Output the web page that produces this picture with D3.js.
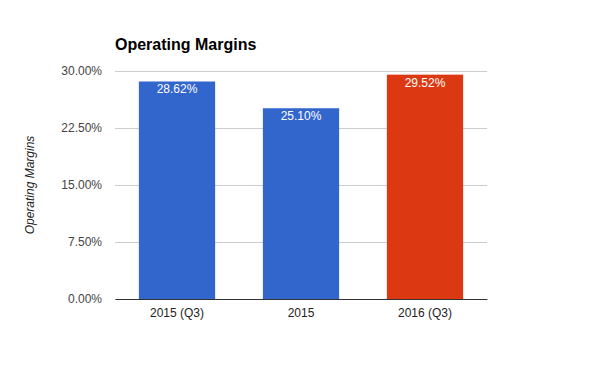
<!DOCTYPE html>
<html>
<head>
<meta charset="utf-8">
<script src="https://cdn.jsdelivr.net/npm/d3@7"></script>
<style>
  body { margin: 0; background: #fff; }
  svg { font-family: "Liberation Sans", Arial, sans-serif; }
</style>
</head>
<body>
<svg width="600" height="371"></svg>
<script>
var categories = ["2015 (Q3)", "2015", "2016 (Q3)"];
var margins = [28.62, 25.10, 29.52];
var barColors = ["#3366cc", "#3366cc", "#dc3912"];
var yTicks = [0, 7.5, 15, 22.5, 30];

var margin = {top: 71, right: 113, bottom: 72, left: 115},
    width = 600 - margin.left - margin.right,
    height = 371 - margin.top - margin.bottom;

var svg = d3.select("svg")
  .append("g")
    .attr("transform", "translate(" + margin.left + "," + margin.top + ")");

var x = d3.scaleBand()
  .domain(categories)
  .range([0, width])
  .paddingInner(0.385)
  .paddingOuter(0.1925);

var y = d3.scaleLinear()
  .domain([0, 30])
  .range([height, 0]);

// gridlines + y labels
var yAxis = svg.append("g")
  .call(d3.axisLeft(y)
    .tickValues(yTicks)
    .tickSize(-width)
    .tickPadding(13)
    .tickFormat(function(d) { return d.toFixed(2) + "%"; }));
yAxis.select(".domain").remove();
yAxis.selectAll("line").attr("stroke", "#cccccc");
yAxis.selectAll("text")
  .attr("fill", "#444")
  .style("font-size", "12px");

// bars
svg.selectAll("rect.bar")
  .data(margins)
  .enter()
  .append("rect")
    .attr("class", "bar")
    .attr("x", function(d, i) { return x(categories[i]); })
    .attr("y", function(d) { return y(d); })
    .attr("width", x.bandwidth())
    .attr("height", function(d) { return height - y(d); })
    .attr("fill", function(d, i) { return barColors[i]; });

// value labels
svg.selectAll("text.val")
  .data(margins)
  .enter()
  .append("text")
    .attr("class", "val")
    .attr("x", function(d, i) { return x(categories[i]) + x.bandwidth() / 2; })
    .attr("y", function(d) { return y(d) + 12; })
    .attr("text-anchor", "middle")
    .attr("fill", "#fff")
    .style("font-size", "12px")
    .text(function(d) { return d.toFixed(2) + "%"; });

// x axis
var xAxis = svg.append("g")
  .attr("transform", "translate(0," + height + ")")
  .call(d3.axisBottom(x).tickSize(0).tickPadding(9));
xAxis.select(".domain").attr("stroke", "#333");
xAxis.selectAll("text")
  .attr("fill", "#222")
  .style("font-size", "12px");

// title
svg.append("text")
  .attr("x", 0)
  .attr("y", -21)
  .style("font-size", "16px")
  .style("font-weight", "bold")
  .attr("fill", "#000")
  .text("Operating Margins");

// y axis title
svg.append("text")
  .attr("transform", "translate(" + (-81) + "," + (height / 2) + ")rotate(-90)")
  .attr("text-anchor", "middle")
  .style("font-size", "12px")
  .style("font-style", "italic")
  .attr("fill", "#222")
  .text("Operating Margins");
</script>
</body>
</html>
